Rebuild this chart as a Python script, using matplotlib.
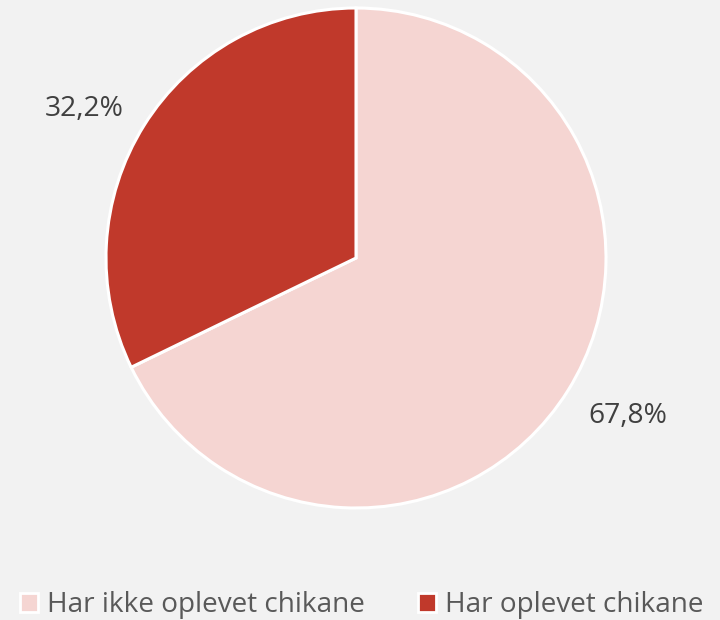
import matplotlib
matplotlib.use("Agg")
import matplotlib.pyplot as plt
from matplotlib.patches import Patch

categories = ["Har ikke oplevet chikane", "Har oplevet chikane"]
values = [67.8, 32.2]
colors = ["#f5d5d2", "#c0392b"]

plt.rcParams['font.family'] = ['Open Sans', 'DejaVu Sans']
bg = "#f2f2f2"
fig = plt.figure(figsize=(7.2, 6.2), dpi=100, facecolor=bg)
W, H = 720, 620
cx, cy, r = 356, 258, 250
ax = fig.add_axes([(cx - r) / W, (H - cy - r) / H, 2 * r / W, 2 * r / H])
ax.set_facecolor(bg)

wedges, texts, autotexts = ax.pie(
    values, colors=colors, startangle=90, counterclock=False,
    autopct=lambda p: f"{p:.1f}%".replace(".", ","), pctdistance=1.25,
    wedgeprops=dict(edgecolor="white", linewidth=2.2),
    textprops=dict(color="#404040", fontsize=20.3),
)
# label placement (Excel-style outside-end positions)
label_pos = [(1.086, -0.632), (-1.086, 0.598)]
for t, p in zip(autotexts, label_pos):
    t.set_position(p)
    t.set_ha("center")
    t.set_va("center")
ax.set_xlim(-1, 1)
ax.set_ylim(-1, 1)
ax.set_aspect("equal")
ax.axis("off")

handles = [Patch(facecolor=c, edgecolor="white", linewidth=2) for c in colors]
fig.legend(handles, categories, loc="center left", bbox_to_anchor=(20 / W, 1 - 605 / H),
           ncol=2, frameon=False, fontsize=20.1, labelcolor="#595959",
           borderpad=0, borderaxespad=0,
           handlelength=0.66, handleheight=0.66, handletextpad=0.3, columnspacing=1.9)

fig.savefig("out.png", dpi=100, facecolor=bg)
